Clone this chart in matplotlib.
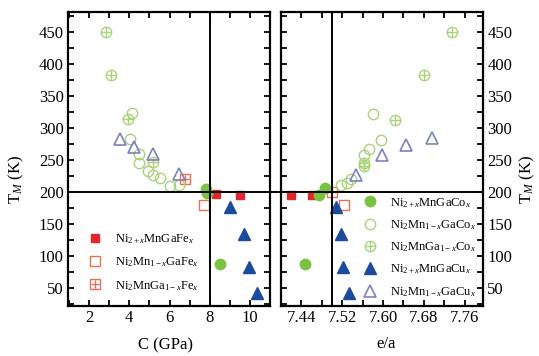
import matplotlib
matplotlib.use("Agg")
import matplotlib.pyplot as plt
from matplotlib.legend_handler import HandlerTuple
from matplotlib.ticker import MultipleLocator, FixedLocator

plt.rcParams['font.family'] = ['Liberation Serif', 'DejaVu Serif']
plt.rcParams['mathtext.fontset'] = 'custom'
plt.rcParams['mathtext.rm'] = 'Liberation Serif'
plt.rcParams['mathtext.it'] = 'Liberation Serif:italic'

# ---------------- data: left panel (elastic constant C, GPa) ----------------
c_fe_ni = [8.33, 9.5]
t_fe_ni = [197, 195]
c_fe_mn = [7.73]
t_fe_mn = [180]
c_fe_ga = [6.78]
t_fe_ga = [220]
c_co_ni = [7.8, 7.87, 8.53]
t_co_ni = [204, 198, 88]
c_co_mn = [4.12, 4.04, 4.5, 4.5, 4.95, 5.2, 5.53, 6.03, 6.45]
t_co_mn = [323, 282, 259, 245, 232, 227, 222, 209, 211]
c_co_ga = [2.83, 3.08, 3.95, 5.2]
t_co_ga = [450, 383, 314, 247]
c_cu_ni = [9.0, 9.7, 9.95, 10.37]
t_cu_ni = [176, 135, 83, 43]
c_cu_mn = [3.54, 4.24, 5.17, 6.45]
t_cu_mn = [282, 271, 259, 228]

# ---------------- data: right panel (e/a) ----------------
e_fe_ni = [7.42, 7.46]
u_fe_ni = [195, 196]
e_fe_mn = [7.523]
u_fe_mn = [179]
e_fe_ga = [7.50]
u_fe_ga = [200]
e_co_ni = [7.474, 7.487, 7.448]
u_co_ni = [195, 206, 88]
e_co_mn = [7.58, 7.597, 7.572, 7.562, 7.538, 7.53, 7.518]
u_co_mn = [322, 281, 267, 258, 220, 214, 211]
e_co_ga = [7.735, 7.681, 7.623, 7.5635, 7.562]
u_co_ga = [450, 383, 312, 246, 241]
e_cu_ni = [7.508, 7.518, 7.521, 7.534]
u_cu_ni = [177, 135, 83, 43]
e_cu_mn = [7.547, 7.598, 7.646, 7.696]
u_cu_mn = [227, 258, 273, 284]

labels_fe = [r"Ni$_{2+x}$MnGaFe$_x$", r"Ni$_2$Mn$_{1-x}$GaFe$_x$", r"Ni$_2$MnGa$_{1-x}$Fe$_x$"]
labels_cc = [r"Ni$_{2+x}$MnGaCo$_x$", r"Ni$_2$Mn$_{1-x}$GaCo$_x$", r"Ni$_2$MnGa$_{1-x}$Co$_x$",
             r"Ni$_{2+x}$MnGaCu$_x$", r"Ni$_2$Mn$_{1-x}$GaCu$_x$"]

RED = '#e3262c'
RED_O = '#e8704f'
GREEN = '#7cc242'
GREEN_O = '#a9d27a'
BLUE = '#1c4a9c'
BLUE_O = '#7c80c0'

fig = plt.figure(figsize=(5.39, 3.56), dpi=100)
W, H = 539, 356
ax1 = fig.add_axes([68 / W, 1 - 306 / H, 202 / W, 294 / H])
ax2 = fig.add_axes([281 / W, 1 - 306 / H, 202 / W, 294 / H])


def draw(ax, d):
    h = {}
    h['fe_ni'], = ax.plot(d[0][0], d[0][1], 's', color=RED, ms=6, mec=RED, ls='none')
    h['fe_mn'], = ax.plot(d[1][0], d[1][1], 's', mfc='none', mec=RED_O, ms=6.5, mew=1.0, ls='none')
    a, = ax.plot(d[2][0], d[2][1], 's', mfc='none', mec=RED_O, ms=6.5, mew=1.0, ls='none')
    b, = ax.plot(d[2][0], d[2][1], '+', color=RED_O, ms=5.5, mew=1.0, ls='none')
    h['fe_ga'] = (a, b)
    h['co_ni'], = ax.plot(d[3][0], d[3][1], 'o', color=GREEN, ms=7.5, ls='none')
    h['co_mn'], = ax.plot(d[4][0], d[4][1], 'o', mfc='none', mec=GREEN_O, ms=7.5, mew=1.0, ls='none')
    a, = ax.plot(d[5][0], d[5][1], 'o', mfc='none', mec=GREEN_O, ms=7.5, mew=1.0, ls='none')
    b, = ax.plot(d[5][0], d[5][1], '+', color=GREEN_O, ms=6.5, mew=1.0, ls='none')
    h['co_ga'] = (a, b)
    h['cu_ni'], = ax.plot(d[6][0], d[6][1], '^', color=BLUE, ms=8.5, ls='none')
    h['cu_mn'], = ax.plot(d[7][0], d[7][1], '^', mfc='none', mec=BLUE_O, ms=8.5, mew=1.2, ls='none')
    return h


h1 = draw(ax1, [(c_fe_ni, t_fe_ni), (c_fe_mn, t_fe_mn), (c_fe_ga, t_fe_ga),
                (c_co_ni, t_co_ni), (c_co_mn, t_co_mn), (c_co_ga, t_co_ga),
                (c_cu_ni, t_cu_ni), (c_cu_mn, t_cu_mn)])
h2 = draw(ax2, [(e_fe_ni, u_fe_ni), (e_fe_mn, u_fe_mn), (e_fe_ga, u_fe_ga),
                (e_co_ni, u_co_ni), (e_co_mn, u_co_mn), (e_co_ga, u_co_ga),
                (e_cu_ni, u_cu_ni), (e_cu_mn, u_cu_mn)])

for ax in (ax1, ax2):
    ax.set_ylim(22, 481)
    ax.yaxis.set_major_locator(MultipleLocator(50))
    ax.yaxis.set_minor_locator(MultipleLocator(25))
    ax.tick_params(which='both', direction='in', top=True, bottom=True, left=True, right=True,
                   length=4.5, width=1.3, labelsize=12, pad=3)
    for s in ax.spines.values():
        s.set_linewidth(1.6)

ax1.set_xlim(0.95, 11)
ax1.xaxis.set_major_locator(MultipleLocator(2))
ax1.xaxis.set_minor_locator(MultipleLocator(1))
ax1.tick_params(labelright=False)
ax1.set_yticks(range(50, 451, 50))
ax1.axvline(8, color='black', lw=1.4)
ax1.axhline(200, xmin=0, xmax=1.055, color='black', lw=1.4, clip_on=False)

ax2.set_xlim(7.40, 7.796)
ax2.xaxis.set_major_locator(FixedLocator([7.44, 7.52, 7.60, 7.68, 7.76]))
ax2.xaxis.set_minor_locator(FixedLocator([7.40, 7.48, 7.56, 7.64, 7.72]))
ax2.xaxis.set_major_formatter(matplotlib.ticker.FormatStrFormatter('%.2f'))
ax2.tick_params(labelleft=False, labelright=True)
ax2.set_yticks(range(50, 451, 50))
ax2.axvline(7.5, color='black', lw=1.4)
ax2.axhline(200, color='black', lw=1.4)

fig.text(165 / W, 1 - 345 / H, "C (GPa)", ha='center', va='center', fontsize=12)
fig.text(386 / W, 1 - 344 / H, "e/a", ha='center', va='center', fontsize=12)
fig.text(16 / W, 1 - 180 / H, r"T$_M$ (K)", ha='center', va='center', rotation=90, fontsize=12)
fig.text(527 / W, 1 - 180 / H, r"T$_M$ (K)", ha='center', va='center', rotation=90, fontsize=12)

hm = {tuple: HandlerTuple(ndivide=1, pad=0)}
leg1 = ax1.legend([h1['fe_ni'], h1['fe_mn'], h1['fe_ga']], labels_fe,
                  loc='upper left', bbox_to_anchor=(0.095, 0.25), frameon=False, fontsize=9,
                  borderaxespad=0, borderpad=0,
                  handlelength=1.25, handletextpad=1.0, labelspacing=0.75, handler_map=hm)
leg2 = ax2.legend([h2['co_ni'], h2['co_mn'], h2['co_ga'], h2['cu_ni'], h2['cu_mn']], labels_cc,
                  loc='upper left', bbox_to_anchor=(0.40, 0.375), frameon=False, fontsize=9,
                  borderaxespad=0, borderpad=0,
                  handlelength=1.25, handletextpad=1.0, labelspacing=0.68, handler_map=hm)

fig.savefig("out.png", dpi=100)
